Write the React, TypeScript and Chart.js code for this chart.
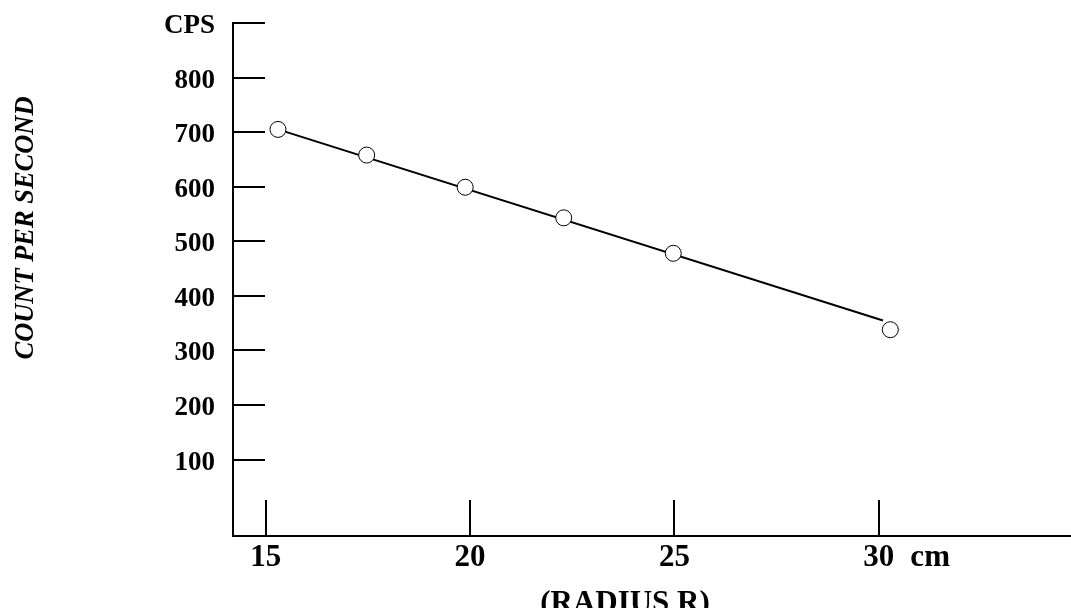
import { useEffect, useRef } from "react";
import { Chart, registerables } from "chart.js";

Chart.register(...registerables);

// ---- data ----
const radiusCm = [15.3, 17.47, 19.88, 22.29, 24.97, 30.28];
const countsPerSecond = [705, 658, 599, 543, 478, 338];
const fitRadius = [15.3, 30.1];
const fitCounts = [705, 355];
const xTickValues = [15, 20, 25, 30];
const yTickValues = [100, 200, 300, 400, 500, 600, 700, 800, 900];
const yTickLabels = ["100", "200", "300", "400", "500", "600", "700", "800", "CPS"];
const xAxisTitle = "(RADIUS R)";
const yAxisTitle = "COUNT PER SECOND";
const xUnit = "cm";

const FAMILY = '"Liberation Serif", "Times New Roman", serif';

const textPlugin = {
  id: "extraText",
  afterDraw(chart: any) {
    const ctx = chart.ctx as CanvasRenderingContext2D;
    const xs = chart.scales.x;
    ctx.save();
    ctx.fillStyle = "#000";
    // unit after the "30" tick label
    ctx.font = `bold 31px ${FAMILY}`;
    ctx.textBaseline = "middle";
    ctx.textAlign = "left";
    const p30 = xs.getPixelForValue(30);
    const w30 = ctx.measureText("30").width;
    ctx.fillText(xUnit, p30 + w30 / 2 + 16, xs.top + 21.6);
    // x axis title
    ctx.textAlign = "center";
    ctx.textBaseline = "alphabetic";
    ctx.fillText(xAxisTitle, 625, 612);
    // y axis title
    ctx.font = `italic bold 27px ${FAMILY}`;
    ctx.translate(26, 228);
    ctx.rotate(-Math.PI / 2);
    const w = ctx.measureText(yAxisTitle).width;
    ctx.scale(263 / w, 1);
    ctx.textAlign = "center";
    ctx.textBaseline = "middle";
    ctx.fillText(yAxisTitle, 0, 0);
    ctx.restore();
  },
};

function zeroPadding(s: any) {
  s.paddingTop = 0;
  s.paddingBottom = 0;
  s.paddingLeft = 0;
  s.paddingRight = 0;
}

export default function App() {
  const ref = useRef<HTMLCanvasElement>(null);
  useEffect(() => {
    if (!ref.current) return;
    const chart = new Chart(ref.current, {
      type: "scatter",
      data: {
        datasets: [
          {
            data: radiusCm.map((x, i) => ({ x, y: countsPerSecond[i] })),
            showLine: false,
            pointRadius: 8,
            pointBackgroundColor: "#fff",
            pointBorderColor: "#000",
            pointBorderWidth: 1,
          },
          {
            data: fitRadius.map((x, i) => ({ x, y: fitCounts[i] })),
            showLine: true,
            borderColor: "#000",
            borderWidth: 2,
            pointRadius: 0,
            fill: false,
          },
        ],
      },
      options: {
        responsive: false,
        animation: false,
        events: [],
        layout: { autoPadding: false, padding: { top: 23, right: 0, left: 0, bottom: 0 } },
        plugins: { legend: { display: false }, tooltip: { enabled: false } },
        scales: {
          x: {
            type: "linear",
            min: 14.2,
            max: 34.7,
            afterFit: (s: any) => {
              s.height = 72;
              zeroPadding(s);
            },
            afterBuildTicks: (s: any) => {
              s.ticks = xTickValues.map((v) => ({ value: v }));
            },
            grid: {
              drawOnChartArea: false,
              drawTicks: true,
              tickLength: -36,
              color: "#000",
              lineWidth: 2,
            },
            border: { display: true, color: "#000", width: 2 },
            ticks: {
              autoSkip: false,
              maxRotation: 0,
              padding: 39,
              color: "#000",
              font: { family: FAMILY, size: 31, weight: "bold" },
              callback: (v: any) => String(v),
            },
          },
          y: {
            type: "linear",
            min: -40,
            max: 900,
            afterFit: (s: any) => {
              s.width = 233;
              zeroPadding(s);
            },
            afterBuildTicks: (s: any) => {
              s.ticks = yTickValues.map((v) => ({ value: v }));
            },
            grid: {
              drawOnChartArea: false,
              drawTicks: true,
              tickLength: -32,
              color: "#000",
              lineWidth: 2,
            },
            border: { display: true, color: "#000", width: 2 },
            ticks: {
              autoSkip: false,
              padding: 50,
              labelOffset: 3,
              color: "#000",
              font: { family: FAMILY, size: 27, weight: "bold" },
              callback: (v: any) => {
                const i = yTickValues.indexOf(Number(v));
                return i >= 0 ? yTickLabels[i] : "";
              },
            },
          },
        },
      },
      plugins: [textPlugin],
    } as any);
    return () => chart.destroy();
  }, []);
  return (
    <div style={{ position: "absolute", left: 0, top: 0, width: 1071, height: 608, background: "#fff" }}>
      <canvas ref={ref} width={1071} height={608} style={{ display: "block" }} />
    </div>
  );
}
